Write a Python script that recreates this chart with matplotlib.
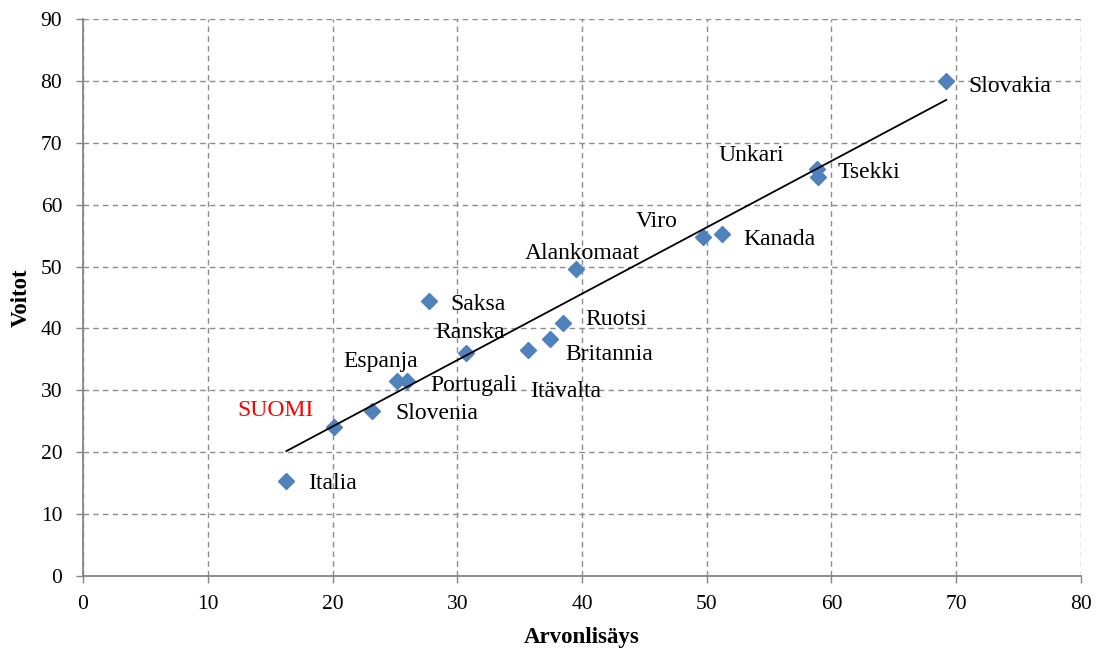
import numpy as np
import matplotlib
matplotlib.use("Agg")
import matplotlib.pyplot as plt

countries = ["Italia", "SUOMI", "Slovenia", "Espanja", "Portugali", "Ranska", "Saksa",
             "Itävalta", "Britannia", "Ruotsi", "Alankomaat", "Viro", "Kanada",
             "Unkari", "Tsekki", "Slovakia"]
arvonlisays = [16.3, 20.1, 23.2, 25.2, 26.0, 30.7, 27.7,
               35.7, 37.4, 38.5, 39.5, 49.7, 51.2,
               58.8, 58.9, 69.2]
voitot = [15.4, 24.1, 26.7, 31.5, 31.5, 36.0, 44.5,
          36.5, 38.3, 40.9, 49.6, 54.8, 55.3,
          65.8, 64.5, 80.0]

# label offsets in pixels (dx, dy) from the marker, text left-aligned
offsets = {
    "Italia": (22, -3), "SUOMI": (-96, 16), "Slovenia": (23, -3),
    "Espanja": (-54, 20), "Portugali": (23, -4), "Ranska": (-31, 21),
    "Saksa": (22, -4), "Itävalta": (2, -41), "Britannia": (16, -16),
    "Ruotsi": (22, 3), "Alankomaat": (-51, 16), "Viro": (-67, 15),
    "Kanada": (22, -6), "Unkari": (-98, 13), "Tsekki": (20, 4),
    "Slovakia": (22, -6),
}

plt.rcParams['font.family'] = ['Liberation Serif', 'DejaVu Serif']

fig = plt.figure(figsize=(10.97, 6.52), dpi=100)
ax = fig.add_axes([0.0757, 0.1166, 0.9097, 0.8543])

ax.set_xlim(0, 80)
ax.set_ylim(0, 90)
ax.set_xticks(np.arange(0, 81, 10))
ax.set_yticks(np.arange(0, 91, 10))
ax.grid(True, linestyle=(0, (4, 3)), color='#8c8c8c', linewidth=1)
ax.set_axisbelow(True)
for s in ['top', 'right']:
    ax.spines[s].set_visible(False)
for s in ['left', 'bottom']:
    ax.spines[s].set_color('#868686')
    ax.spines[s].set_linewidth(1.3)
ax.tick_params(colors='#868686', labelcolor='black', labelsize=15.5, length=5, width=1)
ax.tick_params(axis='y', pad=10)
ax.tick_params(axis='x', pad=9)

ax.plot(arvonlisays, voitot, linestyle='none', marker='D', ms=8.5,
        color='#4F81BD', zorder=3)

k, b = np.polyfit(arvonlisays, voitot, 1)
xs = np.array([min(arvonlisays), max(arvonlisays)])
ax.plot(xs, k * xs + b, color='black', linewidth=1.3, zorder=4)

for name, x, y in zip(countries, arvonlisays, voitot):
    dx, dy = offsets[name]
    ax.annotate(name, (x, y), xytext=(dx * 0.72, dy * 0.72), textcoords='offset points',
                ha='left', va='center', fontsize=17,
                color='#ff0000' if name == 'SUOMI' else 'black', zorder=5)

ax.set_xlabel('Arvonlisäys', fontsize=16.5, fontweight='bold', labelpad=9)
ax.set_ylabel('Voitot', fontsize=16.5, fontweight='bold', labelpad=6)

fig.savefig('out.png', dpi=100)
